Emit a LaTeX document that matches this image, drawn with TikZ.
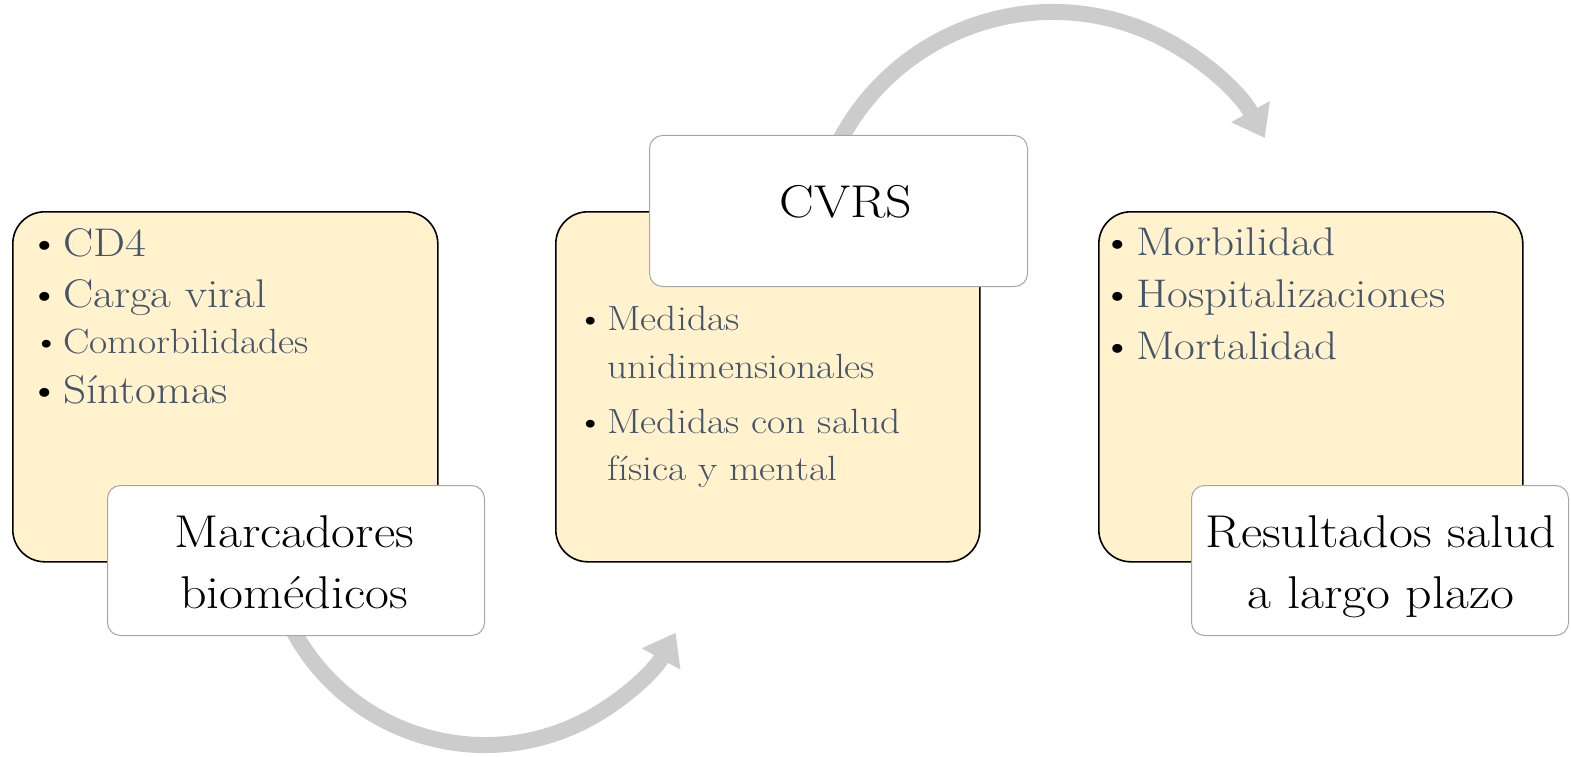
\documentclass[tikz,border=0pt]{standalone}
\usetikzlibrary{arrows.meta}
\definecolor{boxyellow}{HTML}{FFF2CC}
\definecolor{itemblue}{HTML}{44546A}
\definecolor{wborder}{HTML}{A6A6A6}
\definecolor{arcgray}{HTML}{CCCCCC}
\newcommand{\bul}{\llap{\textcolor{black}{\textbullet}\hspace{2pt}}}
\begin{document}
\begin{tikzpicture}[x=1pt,y=1pt,
  ybox/.style={draw=black, line width=1.6pt, fill=boxyellow, rounded corners=32pt, anchor=north west, inner sep=0pt},
  wbox/.style={draw=wborder, line width=1pt, fill=white, rounded corners=13pt, anchor=north west, inner sep=0pt},
  itemL/.style={anchor=base west, inner sep=0pt, text=itemblue, xscale=1.13, transform shape, font=\fontsize{40}{46}\selectfont},
  itemS/.style={anchor=base west, inner sep=0pt, text=itemblue, xscale=1.13, transform shape, font=\fontsize{35}{40}\selectfont},
  ttl/.style={anchor=base, inner sep=0pt, align=center, text=black, xscale=1.13, transform shape, font=\fontsize{46}{61}\selectfont},
  bigarc/.style={draw=arcgray, line width=16pt, -{Triangle[length=30pt,width=42pt]}}
]
\useasboundingbox (0,0) rectangle (1571,-757);

% arcs (behind)
\coordinate (cb) at (485,-527);
\coordinate (ct) at (1053,-253);
\draw[bigarc] ([shift={(207:218)}]cb) arc[start angle=207, end angle=331, radius=218];
\draw[bigarc] ([shift={(155:241)}]ct) arc[start angle=155, end angle=28.5, radius=241];

% yellow boxes
\node[ybox, minimum width=425pt, minimum height=350pt] (b1) at (12,-211) {};
\node[ybox, minimum width=424pt, minimum height=350pt] (b2) at (555,-211) {};
\node[ybox, minimum width=424pt, minimum height=350pt] (b3) at (1098,-211) {};

% items box 1
\node[itemL] (i11) at (63,-256) {\bul CD4};
\node[itemL] (i12) at (63,-307) {\bul Carga viral};
\node[itemS] (i13) at (63,-353) {\bul Comorbilidades};
\node[itemL] (i14) at (63,-403) {\bul Síntomas};

% items box 2
\node[itemS] (i21) at (607,-330) {\bul Medidas};
\node[itemS] (i22) at (607,-378) {unidimensionales};
\node[itemS] (i23) at (607,-433) {\bul Medidas con salud};
\node[itemS] (i24) at (607,-480) {física y mental};

% items box 3
\node[itemL] (i31) at (1136,-255) {\bul Morbilidad};
\node[itemL] (i32) at (1136,-307) {\bul Hospitalizaciones};
\node[itemL] (i33) at (1136,-359) {\bul Mortalidad};

% white title boxes
\node[wbox, minimum width=377pt, minimum height=150pt] (w1) at (107,-485) {};
\node[wbox, minimum width=378pt, minimum height=151pt] (w2) at (649,-135) {};
\node[wbox, minimum width=377pt, minimum height=150pt] (w3) at (1191,-485) {};

\node[ttl] (t1) at (294,-608) {Marcadores\\biomédicos};
\node[ttl] (t2) at (846,-217) {CVRS};
\node[ttl] (t3) at (1381,-608) {Resultados salud\\a largo plazo};
\end{tikzpicture}
\end{document}
